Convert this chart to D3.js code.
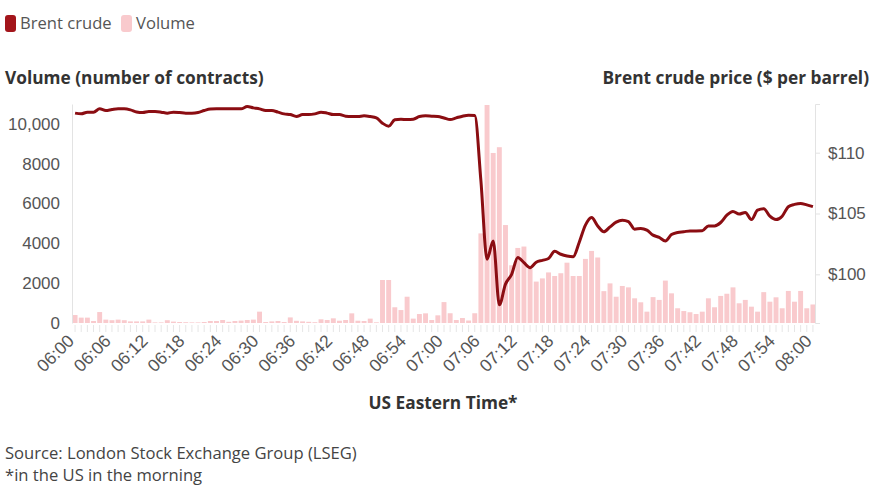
<!DOCTYPE html>
<html>
<head>
<meta charset="UTF-8">
<script src="https://d3js.org/d3.v7.min.js"></script>
<style>
    body { margin: 0; background: #fff; font-family: "Open Sans", Arial, sans-serif; }
    .tick-label { fill: #555; font-size: 17px; }
    .x-label { fill: #555; font-size: 17.5px; }
    .title { fill: #333; font-size: 17.3px; font-weight: 700; }
    .note { fill: #444; font-size: 16.6px; }
    .legend-text { fill: #555; font-size: 16.6px; }
</style>
</head>
<body>
<svg width="875" height="486"></svg>
<script>
// minutes from 06:00 to 08:00 (US Eastern)
const minutes = [];
for (let h = 6; h <= 8; h++) {
    for (let m = 0; m < 60; m++) {
        if (h === 8 && m > 0) break;
        minutes.push(String(h).padStart(2, "0") + ":" + String(m).padStart(2, "0"));
    }
}

const tickLabels = ["06:00", "06:06", "06:12", "06:18", "06:24", "06:30", "06:36", "06:42", "06:48", "06:54",
    "07:00", "07:06", "07:12", "07:18", "07:24", "07:30", "07:36", "07:42", "07:48", "07:54", "08:00"];

// volume, number of contracts per minute
const volume = [
    400, 270, 270, 100, 550, 170, 140, 170, 140, 80,
    80, 80, 170, 30, 30, 140, 70, 50, 40, 30,
    30, 50, 100, 100, 150, 60, 100, 120, 150, 170,
    570, 50, 80, 100, 50, 280, 110, 80, 60, 40,
    185, 150, 235, 115, 150, 485, 115, 100, 220, 35,
    2160, 2160, 790, 650, 1320, 220, 450, 485, 150, 385,
    1050, 490, 150, 250, 125, 490, 4500, 10950, 8540, 8830,
    4920, 2900, 3770, 3840, 2710, 2080, 2240, 2540, 2360, 2500,
    3030, 2360, 2360, 3220, 3620, 3290, 1600, 1990, 1320, 1860,
    1790, 1240, 1040, 570, 1300, 1160, 2130, 1490, 740, 600,
    540, 450, 570, 1240, 790, 1360, 1470, 1790, 990, 1160,
    820, 570, 1550, 1070, 1290, 740, 1610, 1070, 1610, 740,
    930
];

// Brent crude price, $ per barrel
const price = [
    113.25, 113.19, 113.33, 113.33, 113.60, 113.46, 113.54, 113.60, 113.60, 113.52,
    113.35, 113.30, 113.38, 113.38, 113.33, 113.25, 113.33, 113.30, 113.25, 113.25,
    113.30, 113.46, 113.58, 113.60, 113.60, 113.60, 113.60, 113.60, 113.79, 113.68,
    113.60, 113.46, 113.46, 113.33, 113.19, 113.13, 112.97, 113.13, 113.13, 113.19,
    113.33, 113.25, 113.13, 113.13, 113.00, 112.97, 112.97, 113.03, 112.97, 112.86,
    112.42, 112.18, 112.70, 112.75, 112.72, 112.75, 112.97, 113.03, 113.00, 112.97,
    112.85, 112.72, 112.86, 113.00, 113.08, 113.05, 107.70, 101.24, 102.75, 97.50,
    99.20, 100.00, 101.38, 100.96, 100.55, 101.00, 101.15, 101.30, 101.90, 101.65,
    101.50, 101.44, 102.64, 104.04, 104.67, 103.98, 103.50, 103.90, 104.29, 104.45,
    104.33, 103.71, 103.77, 103.63, 103.22, 103.03, 102.75, 103.27, 103.44, 103.50,
    103.57, 103.57, 103.58, 103.98, 103.98, 104.26, 104.86, 105.17, 104.95, 105.09,
    104.50, 105.28, 105.40, 104.78, 104.50, 104.78, 105.56, 105.75, 105.83, 105.71,
    105.56
];

const volumeTicks = [0, 2000, 4000, 6000, 8000, 10000];
const priceTicks = [100, 105, 110];

const lineColor = "#8b0d12";
const barColor = "#f9cacd";

const svg = d3.select("svg");

const plotLeft = 72, plotRight = 816, plotTop = 104, plotBottom = 323;

const x = d3.scaleBand()
    .domain(minutes)
    .range([plotLeft, plotRight])
    .paddingInner(0.2)
    .paddingOuter(0.1);

const yVol = d3.scaleLinear().domain([0, 11000]).range([plotBottom, plotTop]);
const yPrice = d3.scaleLinear().domain([96, 114]).range([plotBottom, plotTop]);

// legend
const legend = svg.append("g").attr("transform", "translate(5, 15)");
legend.append("rect").attr("width", 11).attr("height", 17).attr("rx", 3).attr("fill", "#a3151b");
legend.append("text").attr("class", "legend-text").attr("x", 15).attr("y", 14).text("Brent crude");
legend.append("rect").attr("x", 116).attr("width", 11).attr("height", 17).attr("rx", 3).attr("fill", barColor);
legend.append("text").attr("class", "legend-text").attr("x", 131).attr("y", 14).text("Volume");

// axis titles
svg.append("text").attr("class", "title").attr("x", 5).attr("y", 84).text("Volume (number of contracts)");
svg.append("text").attr("class", "title").attr("x", 869).attr("y", 84)
    .attr("text-anchor", "end").text("Brent crude price ($ per barrel)");

// bars
svg.append("g")
    .selectAll("rect")
    .data(volume)
    .join("rect")
        .attr("x", (d, i) => x(minutes[i]))
        .attr("y", d => yVol(d))
        .attr("width", x.bandwidth())
        .attr("height", d => yVol(0) - yVol(d))
        .attr("fill", barColor);

// left axis
const leftAxis = svg.append("g")
    .attr("transform", `translate(${plotLeft},0)`)
    .call(d3.axisLeft(yVol).tickValues(volumeTicks).tickSize(0).tickPadding(12)
        .tickFormat(d => d >= 10000 ? d3.format(",")(d) : d));
leftAxis.select(".domain").attr("stroke", "#e3e3e3");
leftAxis.selectAll("text").attr("class", "tick-label").attr("font-family", null).attr("font-size", null);

// right axis
const rightAxis = svg.append("g")
    .attr("transform", `translate(${plotRight - 1},0)`)
    .call(d3.axisRight(yPrice).tickValues(priceTicks).tickSize(5).tickPadding(8)
        .tickFormat(d => "$" + d));
rightAxis.select(".domain").attr("stroke", "#e3e3e3");
rightAxis.selectAll("line").attr("stroke", "#e3e3e3");
rightAxis.selectAll("text").attr("class", "tick-label").attr("font-family", null).attr("font-size", null);

// bottom axis: a tick each minute, label every six
const bottomAxis = svg.append("g")
    .attr("transform", `translate(0,${plotBottom + 2})`)
    .call(d3.axisBottom(x).tickSize(7)
        .tickFormat(d => tickLabels.includes(d) ? d : ""));
bottomAxis.select(".domain").remove();
bottomAxis.selectAll("line").attr("stroke", "#e6e6e6");
bottomAxis.selectAll("text")
    .attr("class", "x-label")
    .attr("font-family", null).attr("font-size", null)
    .attr("text-anchor", "end")
    .attr("y", 0)
    .attr("dy", 0)
    .attr("transform", "translate(0,17) rotate(-45)");

// price line
const line = d3.line()
    .x((d, i) => x(minutes[i]) + x.bandwidth() / 2)
    .y(d => yPrice(d))
    .curve(d3.curveMonotoneX);

svg.append("path")
    .datum(price)
    .attr("d", line)
    .attr("fill", "none")
    .attr("stroke", lineColor)
    .attr("stroke-width", 3)
    .attr("stroke-linejoin", "round");

// x title
svg.append("text").attr("class", "title").attr("x", 443).attr("y", 409)
    .attr("text-anchor", "middle").text("US Eastern Time*");

// notes
svg.append("text").attr("class", "note").attr("x", 5).attr("y", 459).text("Source: London Stock Exchange Group (LSEG)");
svg.append("text").attr("class", "note").attr("x", 5).attr("y", 481).text("*in the US in the morning");
</script>
</body>
</html>
